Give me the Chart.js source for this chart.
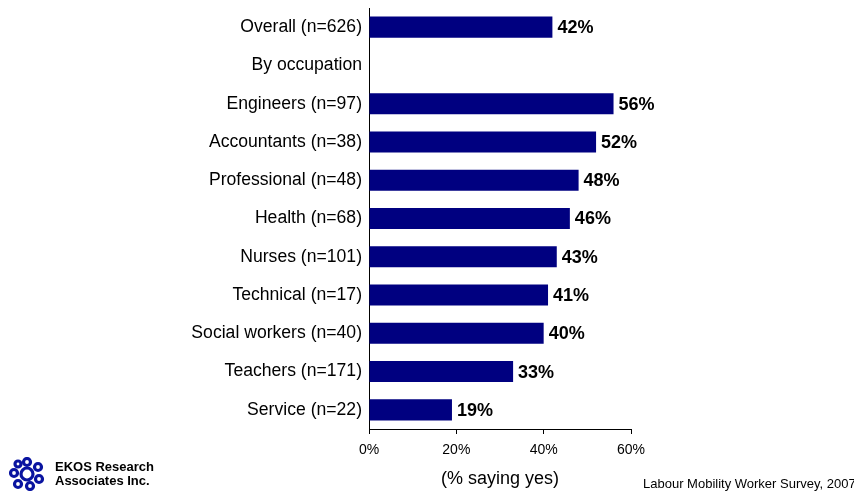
<!DOCTYPE html>
<html>
<head>
<meta charset="utf-8">
<script src="https://cdn.jsdelivr.net/npm/chart.js@4"></script>
<style>
  html,body{margin:0;padding:0;background:#fff;}
  #wrap{position:relative;width:854px;height:491px;overflow:hidden;font-family:'Liberation Sans',Arial,sans-serif;}
  #chart{position:absolute;left:0;top:0;}
  .ekos{position:absolute;left:55px;top:460px;font-weight:bold;font-size:13px;line-height:14px;color:#000;}
  .src{position:absolute;left:643px;top:476px;font-size:13px;color:#000;white-space:nowrap;}
  #logo{position:absolute;left:9px;top:457px;}
</style>
</head>
<body>
<div id="wrap">
  <canvas id="chart" width="854" height="491"></canvas>
  <svg id="logo" width="36" height="34" viewBox="0 0 36 34">
    <g fill="none" stroke="#0a14a0" stroke-width="3.2" stroke-linecap="round">
      <circle cx="18" cy="5" r="3.5"/>
      <circle cx="29" cy="10" r="3.5"/>
      <circle cx="30" cy="22" r="3.5"/>
      <circle cx="21" cy="29" r="3.5"/>
      <circle cx="9" cy="27" r="3.5"/>
      <circle cx="5" cy="16" r="3.5"/>
      <circle cx="9" cy="7" r="3"/>
      <circle cx="18" cy="17" r="6"/>
    </g>
  </svg>
  <div class="ekos">EKOS Research<br>Associates Inc.</div>
  <div class="src">Labour Mobility Worker Survey, 2007</div>
</div>
<script>
// share saying yes, overall and by occupation
const LABELS = ['Overall (n=626)','By occupation','Engineers (n=97)','Accountants (n=38)','Professional (n=48)',
  'Health (n=68)','Nurses (n=101)','Technical (n=17)','Social workers (n=40)','Teachers (n=171)','Service (n=22)'];
const VALUES = [42,null,56,52,48,46,43,41,40,33,19];
const X_TICKS = [0,20,40,60];

const FONT = "'Liberation Sans', Arial, sans-serif";
const NAVY = '#000080';

// bold % next to each bar
const valueLabels = {
  id:'valueLabels',
  afterDatasetsDraw(chart){
    const ctx=chart.ctx, meta=chart.getDatasetMeta(0);
    ctx.save();
    ctx.font='bold 18px '+FONT; ctx.fillStyle='#000';
    ctx.textAlign='left'; ctx.textBaseline='middle';
    meta.data.forEach((bar,i)=>{
      const v=VALUES[i]; if(v==null) return;
      ctx.fillText(v+'%', bar.x+5, bar.y+1);
    });
    ctx.restore();
  }
};

new Chart(document.getElementById('chart'),{
  type:'bar',
  data:{labels:LABELS,datasets:[{data:VALUES,backgroundColor:NAVY,barPercentage:0.55,categoryPercentage:1}]},
  options:{
    indexAxis:'y',responsive:false,animation:false,
    layout:{padding:{top:8,right:223,left:0,bottom:0}},
    plugins:{legend:{display:false},tooltip:{enabled:false}},
    scales:{
      x:{min:0,max:60,
        afterBuildTicks:s=>{s.ticks=X_TICKS.map(v=>({value:v}));},
        afterFit:s=>{s.height=62;},
        grid:{drawOnChartArea:false,drawTicks:true,tickLength:5,color:'#000'},
        border:{color:'#000',width:1},
        ticks:{padding:8,color:'#000',font:{family:FONT,size:14},callback:v=>v+'%',maxRotation:0},
        title:{display:true,text:'(% saying yes)',color:'#000',font:{family:FONT,size:18},padding:{top:0,bottom:1}}
      },
      y:{
        afterFit:s=>{s.width=369;s.paddingTop=0;s.paddingBottom=0;},
        grid:{display:true,drawOnChartArea:false,drawTicks:false},
        border:{color:'#000',width:1},
        ticks:{padding:7,color:'#000',font:{family:FONT,size:17.6},autoSkip:false}
      }
    }
  },
  plugins:[valueLabels]
});
</script>
</body>
</html>
